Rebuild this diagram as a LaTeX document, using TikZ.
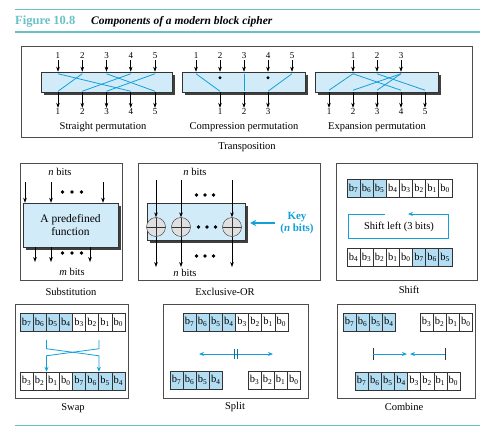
\documentclass[tikz,border=0pt]{standalone}
\usepackage{fontspec}
\setmainfont{Liberation Serif}
\usetikzlibrary{arrows.meta,shadows}
\definecolor{rulecol}{RGB}{105,192,198}
\definecolor{boxblue}{RGB}{210,235,248}
\definecolor{cellblue}{RGB}{178,221,242}
\definecolor{keycol}{RGB}{18,160,218}
\tikzset{
  frm/.style={draw=black!70, line width=0.7pt},
  blk/.style={draw=black!80, fill=boxblue, line width=0.5pt,
    drop shadow={shadow xshift=2.5pt, shadow yshift=-2.5pt, fill=black!75, opacity=1}},
  arr/.style={-{Stealth[length=5pt,width=3.6pt]}, line width=0.6pt},
  wire/.style={draw=keycol, line width=0.8pt},
  num/.style={font=\fontsize{9}{10}\selectfont, inner sep=1pt},
  lbl/.style={font=\fontsize{10.5}{12}\selectfont},
  cell/.style={draw=black!80, line width=0.5pt, minimum width=13.1pt, minimum height=18pt,
    inner sep=0pt, font=\fontsize{10.5}{11}\selectfont},
  xorc/.style={circle, draw=black!80, fill=black!12, minimum size=19pt, inner sep=0pt,
    path picture={\draw[black!80] (path picture bounding box.north) -- (path picture bounding box.south)
      (path picture bounding box.west) -- (path picture bounding box.east);}},
}
\newcommand\bitrow[4]{% name, centre of first cell, y, bits/fills
  \foreach \b/\bc [count=\k] in {#4}
    \node[cell, fill=\bc] (#1\k) at ({#2+(\k-1)*13.1},#3) {b\textsubscript{\b}};}
\newcommand\threedots[3]{\foreach \d in {-1,0,1} \fill ({#1+\d*#3},#2) circle (1.8pt);}
\begin{document}
\begin{tikzpicture}[x=1pt,y=-1pt]
\useasboundingbox (0,0) rectangle (499,434);
% title
\draw[rulecol, line width=0.6pt] (15,9) -- (480,9);
\node[anchor=west, inner sep=0pt, text=rulecol, font=\bfseries\fontsize{12.5}{13}\selectfont] (fig) at (15,22) {Figure 10.8};
\node[anchor=west, inner sep=0pt, font=\bfseries\itshape\fontsize{11.5}{13}\selectfont] (cap) at (91,22) {Components of a modern block cipher};
\draw[rulecol, line width=2.6pt] (15,32) -- (480,32);
\draw[rulecol, line width=0.6pt] (15,425) -- (480,425);

% transposition
\draw[frm] (21,46) rectangle (472,137);
\node[lbl] (trl) at (247,147) {Transposition};

\node[blk, minimum width=131pt, minimum height=20pt] (sp) at (106.5,82) {};
\foreach \i in {1,...,5} {
  \node[num] (spa\i) at ({58+24.25*(\i-1)},56) {\i};
  \node[num] (spb\i) at ({58+24.25*(\i-1)},112) {\i};
  \draw[arr] (spa\i.south) -- (spa\i.south |- sp.north);
  \draw[arr] (spb\i.north |- sp.south) -- (spb\i.north);
}
\foreach \i/\j in {1/4,2/1,3/5,4/2,5/3}
  \draw[wire] ([yshift=-2pt]spa\i.south |- sp.north) -- ([yshift=1pt]spb\j.north |- sp.south);
\node[lbl] (spl) at (103,127) {Straight permutation};

\node[blk, minimum width=123pt, minimum height=20pt] (cp) at (243.5,82) {};
\foreach \i in {1,...,5} {
  \node[num] (cpa\i) at ({196+24*(\i-1)},56) {\i};
  \draw[arr] (cpa\i.south) -- (cpa\i.south |- cp.north);
}
\foreach \i in {1,2,3} {
  \node[num] (cpb\i) at ({220+24*(\i-1)},112) {\i};
  \draw[arr] (cpb\i.north |- cp.south) -- (cpb\i.north);
}
\foreach \i/\j in {1/1,3/2,5/3}
  \draw[wire] ([yshift=-2pt]cpa\i.south |- cp.north) -- ([yshift=1pt]cpb\j.north |- cp.south);
\fill ([yshift=-6pt]cpa2.south |- cp.north) circle (1.6pt);
\fill ([yshift=-6pt]cpa4.south |- cp.north) circle (1.6pt);
\node[lbl] (cpl) at (244,127) {Compression permutation};

\node[blk, minimum width=123pt, minimum height=20pt] (ep) at (376.5,82) {};
\foreach \i in {1,2,3} {
  \node[num] (epa\i) at ({353+24*(\i-1)},56) {\i};
  \draw[arr] (epa\i.south) -- (epa\i.south |- ep.north);
}
\foreach \i in {1,...,5} {
  \node[num] (epb\i) at ({329+24*(\i-1)},112) {\i};
  \draw[arr] (epb\i.north |- ep.south) -- (epb\i.north);
}
\foreach \i/\j in {1/1,1/4,2/5,3/2,3/3}
  \draw[wire] ([yshift=-2pt]epa\i.south |- ep.north) -- ([yshift=2pt]epb\j.north |- ep.south);
\node[lbl] (epl) at (377,127) {Expansion permutation};

% substitution
\draw[frm] (20,163) rectangle (122,280);
\node[blk, font=\fontsize{11.5}{13}\selectfont, minimum width=95pt, minimum height=44pt, align=center] (sub) at (70.5,225) {A predefined\\function};
\node[lbl] (subn) at (60,172) {\textit{n} bits};
\foreach \x [count=\k] in {25,51,103} {
  \coordinate (subi\k) at (\x,182);
  \draw[arr] (subi\k) -- (subi\k |- sub.north);
}
\foreach \x [count=\k] in {35,51,90} {
  \coordinate (subo\k) at (\x,262);
  \draw[arr] (subo\k |- sub.south) -- (subo\k);
}
\threedots{72}{192}{9.5}
\threedots{72}{253}{9.5}
\node[lbl] (subm) at (72,272) {\textit{m} bits};
\node[lbl] (subl) at (71,292) {Substitution};

% exclusive-or
\draw[frm] (138,163) rectangle (320,280);
\node[blk, minimum width=98pt, minimum height=37pt] (xor) at (196,221.5) {};
\foreach \x [count=\k] in {156,181,232} {
  \node[xorc] (xo\k) at (\x,227) {};
  \coordinate (xi\k) at (\x,180);
  \coordinate (xe\k) at (\x,267);
  \draw[arr] (xi\k) -- (xo\k.north);
  \draw[arr] (xo\k.south) -- (xe\k);
}
\threedots{205}{195}{8.5}
\threedots{207}{227}{8.5}
\threedots{205}{256}{8.5}
\node[lbl] (xna) at (195,172) {\textit{n} bits};
\node[lbl] (xnb) at (185,273) {\textit{n} bits};
\node[lbl, text=keycol, font=\bfseries\fontsize{11}{12}\selectfont, align=center] (key) at (297,223) {Key\\(\textit{n} bits)};
\draw[keycol, line width=1.6pt, -{Stealth[length=6pt,width=6.5pt]}] ([xshift=-2pt]key.west) -- ([xshift=5pt]xor.east |- key.west);
\node[lbl] (xorl) at (225,292) {Exclusive-OR};

% shift
\draw[frm] (336,163) rectangle (477,280);
\bitrow{sha}{353.5}{188.5}{7/cellblue,6/cellblue,5/cellblue,4/white,3/white,2/white,1/white,0/white}
\bitrow{shb}{353.5}{257.5}{4/white,3/white,2/white,1/white,0/white,7/cellblue,6/cellblue,5/cellblue}
\coordinate (shs) at (385,214);
\coordinate (she) at (408,214);
\draw[wire, -{Stealth[length=5pt,width=4pt]}] (shs) -- (348,214) -- (348,238) -- (448,238) -- (448,214) -- (she);
\node[lbl] (sht) at (399,227) {Shift left (3 bits)};
\node[lbl] (shl) at (409,290) {Shift};

% swap
\draw[frm] (15,304) rectangle (128,398);
\bitrow{swa}{26.6}{322.5}{7/cellblue,6/cellblue,5/cellblue,4/cellblue,3/white,2/white,1/white,0/white}
\bitrow{swb}{26.6}{381}{3/white,2/white,1/white,0/white,7/cellblue,6/cellblue,5/cellblue,4/cellblue}
\draw[wire, -{Stealth[length=5pt,width=4pt]}] ([yshift=-8pt]swa2.south east) -- ++(0,9) -- ++(52.4,7) -- (swb6.north east);
\draw[wire, -{Stealth[length=5pt,width=4pt]}] ([yshift=-8pt]swa6.south east) -- ++(0,9) -- ++(-52.4,7) -- (swb2.north east);
\node[lbl] (swl) at (73,408) {Swap};

% split
\draw[frm] (163,304) rectangle (308,398);
\bitrow{spa}{189.6}{322}{7/cellblue,6/cellblue,5/cellblue,4/cellblue,3/white,2/white,1/white,0/white}
\bitrow{spl}{176.5}{380}{7/cellblue,6/cellblue,5/cellblue,4/cellblue}
\bitrow{spr}{254.5}{380}{3/white,2/white,1/white,0/white}
\coordinate (spc) at (236,354);
\draw[wire, {Stealth[length=5pt,width=4pt]}-{Stealth[length=5pt,width=4pt]}] (199,354) -- (273,354);
\draw[keycol!70!black, line width=0.7pt] ([xshift=-1.5pt,yshift=5pt]spc) -- ([xshift=-1.5pt,yshift=-5pt]spc)
  ([xshift=1.5pt,yshift=5pt]spc) -- ([xshift=1.5pt,yshift=-5pt]spc);
\node[lbl] (splbl) at (235,407) {Split};

% combine
\draw[frm] (337,304) rectangle (475,398);
\bitrow{cba}{349.6}{322}{7/cellblue,6/cellblue,5/cellblue,4/cellblue}
\bitrow{cbb}{426.6}{322}{3/white,2/white,1/white,0/white}
\bitrow{cbc}{361.7}{381}{7/cellblue,6/cellblue,5/cellblue,4/cellblue,3/white,2/white,1/white,0/white}
\coordinate (cbl) at (373,354);
\coordinate (cbr) at (445,354);
\draw[black!80, line width=0.7pt] ([yshift=6pt]cbl) -- ([yshift=-6pt]cbl) ([yshift=6pt]cbr) -- ([yshift=-6pt]cbr);
\draw[wire, -{Stealth[length=5pt,width=4pt]}] (cbl) -- (407,354);
\draw[wire, -{Stealth[length=5pt,width=4pt]}] (cbr) -- (410,354);
\node[lbl] (cbl2) at (404,407) {Combine};
\end{tikzpicture}
\end{document}
